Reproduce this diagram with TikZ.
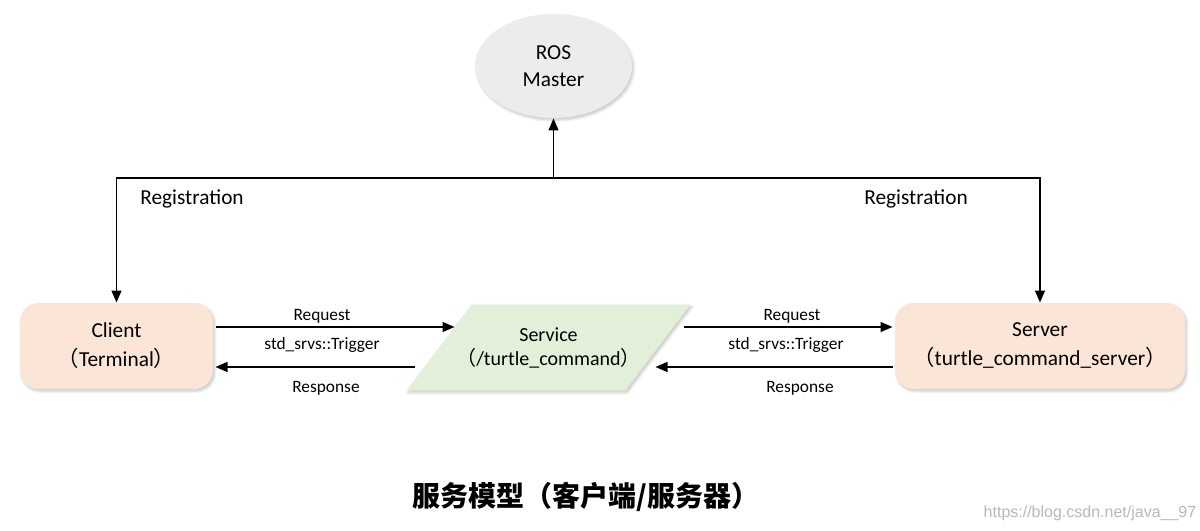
\documentclass[tikz,border=0pt]{standalone}
\usepackage{fontspec}
\setmainfont{Carlito}
\newfontfamily\cjk{Noto Sans CJK SC}
\newfontfamily\wmfont{Liberation Sans}
\usetikzlibrary{arrows.meta,shadows.blur,calc,backgrounds,shapes.geometric}

\definecolor{peach}{RGB}{251,229,214}
\definecolor{leaf}{RGB}{226,240,217}
\definecolor{mist}{RGB}{236,236,236}

% full-width brackets
\newcommand{\lp}{{\cjk （}}
\newcommand{\rp}{{\cjk ）}}

\tikzset{every picture/.style={line width=0.75pt}}
\tikzset{
  soft/.style={blur shadow={shadow xshift=1.2pt,shadow yshift=-1.6pt,shadow blur steps=6,shadow opacity=22}},
  endbox/.style={draw=none,fill=peach,rounded corners=14pt,soft,align=center,font=\fontsize{16}{21.75}\selectfont},
  link/.style={line width=1.1pt,-{Triangle[length=9pt,width=7.5pt]}},
  lbl/.style={inner sep=0pt,font=\fontsize{13}{15}\selectfont},
  reglbl/.style={inner sep=0pt,font=\fontsize{16}{19}\selectfont},
}

\begin{document}
\begin{tikzpicture}[x=0.75pt,y=0.75pt,yscale=-1]
\useasboundingbox (0,0) rectangle (1200,531);

% Master
\node [ellipse,fill=mist,soft,minimum width=117.75pt,minimum height=78pt,align=center,font=\fontsize{16}{20.25}\selectfont] (master) at (553.5,66) {ROS\\Master};
% Client and Server
\node [endbox,minimum width=144.75pt,minimum height=64.5pt] (client) at (116.5,346) {Client\\\lp Terminal\rp};
\node [endbox,minimum width=217.5pt,minimum height=64.5pt] (server) at (1040,346) {Server\\\lp turtle\_command\_server\rp};
% Service
\node [minimum width=163.5pt,minimum height=63.75pt,inner sep=0pt,align=center,font=\fontsize{15}{18}\selectfont] (svc) at (548.5,347.5) {Service\\\lp/turtle\_command\rp};
\begin{scope}[on background layer]
\fill [leaf,soft] ($(svc.south west)+(-32.5,0)$) -- ($(svc.north west)+(32.5,0)$) -- ($(svc.north east)+(32.5,0)$) -- ($(svc.south east)+(-32.5,0)$) -- cycle;
\end{scope}

%Registration lines
\coordinate (hub) at (553.5,178);
\draw [link] (hub) -- (master);
\draw [link] (hub) -| (client);
\draw [link] (hub) -| (server);

%Request / Response lines
\draw [link] ($(client.east)+(2,-19)$) -- ($(svc.west)+(15.5,-20.5)$);
\draw [link] ($(svc.west)+(-24.5,19.5)$) -- ($(client.east)+(2,21)$);
\draw [link] ($(svc.east)+(25.5,-20.5)$) -- ($(server.west)+(-2,-19)$);
\draw [link] ($(server.west)+(-2,21)$) -- ($(svc.east)+(-2.5,19.5)$);

% Text Node
\node [reglbl] (regL) at (192,199) {Registration};
\node [reglbl] (regR) at (916,199) {Registration};
% Text Node
\node [lbl] (reqL) at (322,316) {Request};
\node [lbl] (trigL) at (322,345) {std\_srvs::Trigger};
\node [lbl] (resL) at (326,388) {Response};
\node [lbl] (reqR) at (792,316) {Request};
\node [lbl] (trigR) at (786,345) {std\_srvs::Trigger};
\node [lbl] (resR) at (800,388) {Response};
% Title
\node [font=\cjk\bfseries\fontsize{21}{25}\selectfont] (title) at (586,497) {服务模型（客户端/服务器）};
\node [font=\wmfont\fontsize{12}{14}\selectfont,text=black!28] (mark) at (1090,513) {https://blog.csdn.net/java\_\_97};

\end{tikzpicture}
\end{document}
